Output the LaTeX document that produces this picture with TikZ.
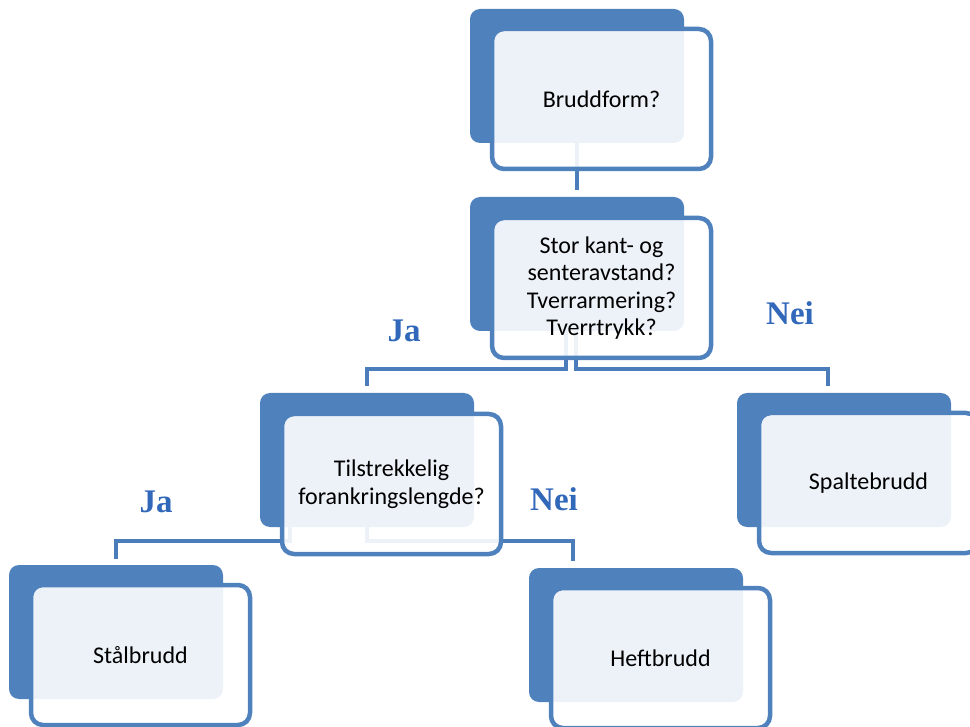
\documentclass[tikz,border=0pt]{standalone}
\usepackage{fontspec}
\setmainfont{Carlito}
\newfontfamily\labfont{Liberation Serif}
\definecolor{acc}{HTML}{4F81BD}
\definecolor{connc}{HTML}{4A7DBA}
\definecolor{labc}{HTML}{3268BA}
\begin{document}
\begin{tikzpicture}[x=1pt,y=-1pt,
 backbox/.style={fill=acc, rounded corners=10pt, minimum width=214pt, minimum height=134pt, inner sep=0pt, draw=none},
 frontbox/.style={draw=acc, line width=4.5pt, fill=white, fill opacity=0.9, text opacity=1, rounded corners=12pt, minimum width=219pt, minimum height=140pt, align=center, font=\fontsize{24}{27.5}\selectfont, inner sep=0pt},
 connline/.style={draw=connc, line width=4pt},
 yn/.style={font=\labfont\bfseries\fontsize{33}{36}\selectfont, text=labc, anchor=base, inner sep=0pt}]
\useasboundingbox (0,0) rectangle (970,727);
% back boxes
\node[backbox] (b1) at (577,76) {};
\node[backbox] (b2) at (577,264) {};
\node[backbox] (b3) at (367,460) {};
\node[backbox] (b4) at (844,460) {};
\node[backbox] (b5) at (116,632) {};
\node[backbox] (b6) at (636,635) {};
% connectors
\draw[connline, shorten >=7pt] (b1.south) -- (b2.north);
\draw[connline] ([xshift=-11pt]b2.south) |- ([yshift=24pt]b3.north) -- ([yshift=7pt]b3.north);
\draw[connline] ([xshift=-1pt]b2.south) |- ([xshift=-16pt,yshift=24pt]b4.north) -- ([xshift=-16pt,yshift=7pt]b4.north);
\draw[connline] ([xshift=-77pt]b3.south) |- ([yshift=24pt]b5.north) -- ([yshift=6pt]b5.north);
\draw[connline] (b3.south) |- ([xshift=-63pt,yshift=27pt]b6.north) -- ([xshift=-63pt,yshift=7pt]b6.north);
% front boxes
\node[frontbox] (f1) at (601.5,99) {Bruddform?};
\node[frontbox] (f2) at (601.5,288) {Stor kant- og\\senteravstand?\\Tverrarmering?\\Tverrtrykk?};
\node[frontbox] (f3) at (391.5,484) {Tilstrekkelig\\forankringslengde?};
\node[frontbox] (f4) at (868.5,483) {Spaltebrudd};
\node[frontbox] (f5) at (140.5,655) {Stålbrudd};
\node[frontbox] (f6) at (660.5,658) {Heftbrudd};
% labels
\node[yn] (ja1) at (404,342) {Ja};
\node[yn] (nei1) at (790,325) {Nei};
\node[yn] (ja2) at (156,512) {Ja};
\node[yn] (nei2) at (554,510) {Nei};
\end{tikzpicture}
\end{document}
